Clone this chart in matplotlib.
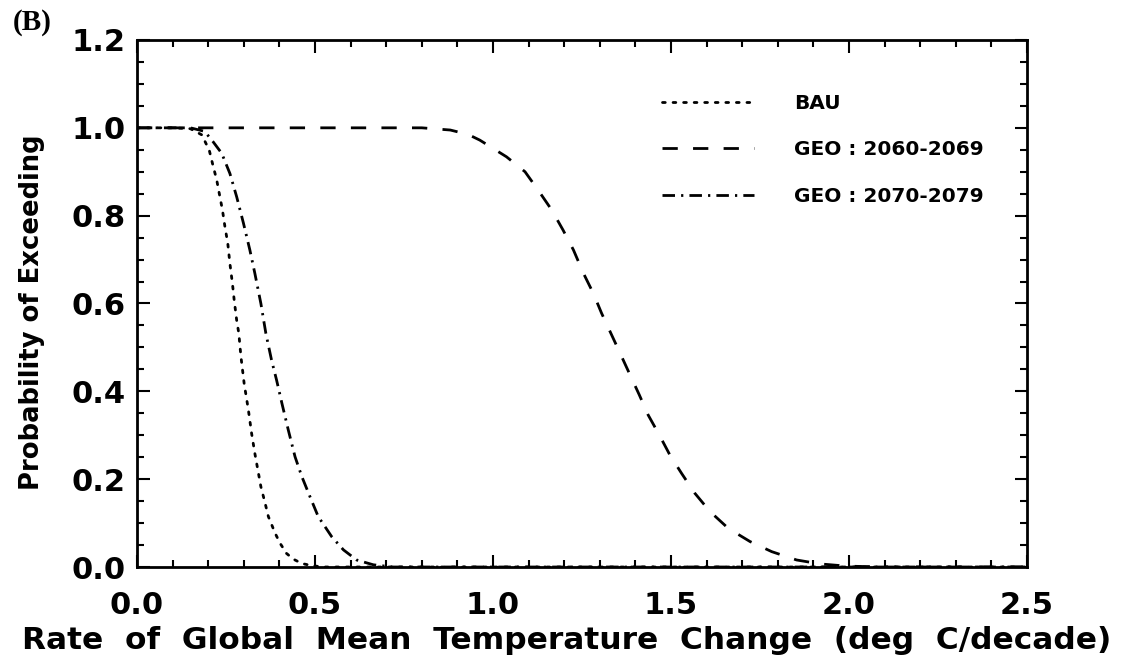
import matplotlib
matplotlib.use("Agg")
import matplotlib.pyplot as plt
from matplotlib.ticker import MultipleLocator, FormatStrFormatter

# valeurs (taux en deg C/decade, probabilite de depassement)
bau_x = [0.0, 0.10, 0.15, 0.182, 0.203, 0.212, 0.224, 0.231, 0.240, 0.247, 0.255,
         0.261, 0.268, 0.273, 0.280, 0.286, 0.292, 0.301, 0.313, 0.322, 0.331,
         0.348, 0.360, 0.369, 0.388, 0.402, 0.420, 0.439, 0.463, 0.486, 0.52, 2.5]
bau_y = [1.0, 1.0, 0.998, 0.984, 0.949, 0.919, 0.881, 0.851, 0.813, 0.775, 0.737,
         0.691, 0.646, 0.608, 0.562, 0.532, 0.479, 0.418, 0.357, 0.304, 0.259,
         0.183, 0.145, 0.115, 0.077, 0.054, 0.031, 0.018, 0.008, 0.004, 0.0, 0.0]

geo60_x = [0.0, 0.80, 0.88, 0.93, 0.963, 1.038, 1.090, 1.127, 1.165, 1.197, 1.226,
           1.254, 1.282, 1.305, 1.329, 1.357, 1.383, 1.411, 1.436, 1.467, 1.497,
           1.530, 1.567, 1.610, 1.661, 1.722, 1.783, 1.853, 1.919, 1.994, 2.1, 2.5]
geo60_y = [1.0, 1.0, 0.995, 0.985, 0.972, 0.934, 0.900, 0.858, 0.813, 0.767, 0.722,
           0.669, 0.623, 0.578, 0.536, 0.487, 0.441, 0.392, 0.346, 0.301, 0.255,
           0.213, 0.168, 0.126, 0.088, 0.058, 0.035, 0.016, 0.007, 0.002, 0.0, 0.0]

geo70_x = [0.0, 0.15, 0.19, 0.214, 0.238, 0.261, 0.280, 0.299, 0.317, 0.331, 0.348,
           0.362, 0.378, 0.392, 0.407, 0.425, 0.444, 0.463, 0.486, 0.509, 0.547,
           0.580, 0.617, 0.664, 0.72, 2.5]
geo70_y = [1.0, 1.0, 0.992, 0.968, 0.942, 0.896, 0.843, 0.783, 0.722, 0.669, 0.600,
           0.532, 0.471, 0.426, 0.373, 0.312, 0.251, 0.206, 0.160, 0.115, 0.069,
           0.039, 0.016, 0.005, 0.0, 0.0]

labels = ['BAU', 'GEO : 2060-2069', 'GEO : 2070-2079']

fig = plt.figure(figsize=(11.35, 6.61), dpi=100)
ax = fig.add_axes([0.1207, 0.1422, 0.7841, 0.7973])

ax.plot(bau_x, bau_y, color='black', lw=2, linestyle=(0, (1, 2.8)),
        dash_capstyle='round', label=labels[0])
ax.plot(geo60_x, geo60_y, color='black', lw=2, linestyle=(0, (5.5, 5.5)), label=labels[1])
ax.plot(geo70_x, geo70_y, color='black', lw=2, linestyle=(0, (4.5, 2.2, 0.8, 2.2)),
        label=labels[2])

ax.set_xlim(0, 2.5)
ax.set_ylim(0, 1.2)
ax.xaxis.set_major_locator(MultipleLocator(0.5))
ax.xaxis.set_minor_locator(MultipleLocator(0.1))
ax.yaxis.set_major_locator(MultipleLocator(0.2))
ax.yaxis.set_minor_locator(MultipleLocator(0.05))
ax.xaxis.set_major_formatter(FormatStrFormatter('%.1f'))
ax.yaxis.set_major_formatter(FormatStrFormatter('%.1f'))
ax.tick_params(which='both', direction='in', top=True, right=True, width=1.5)
ax.tick_params(which='major', length=9, labelsize=22)
ax.tick_params(axis='x', which='major', pad=17)
ax.tick_params(axis='y', which='major', pad=8)
ax.tick_params(which='minor', length=5)
for lab in ax.get_xticklabels() + ax.get_yticklabels():
    lab.set_fontweight('bold')
for s in ax.spines.values():
    s.set_linewidth(2)

ax.set_xlabel('Rate  of  Global  Mean  Temperature  Change  (deg  C/decade)',
              fontsize=22.5, fontweight='bold')
ax.xaxis.set_label_coords(0.483, -0.112)
ax.set_ylabel('Probability of Exceeding', fontsize=18.6, fontweight='bold')
ax.yaxis.set_label_coords(-0.103, 0.484)

leg = ax.legend(loc='upper left', bbox_to_anchor=(0.569, 0.932), frameon=False,
                handlelength=4.6, handletextpad=2.0, labelspacing=1.36,
                prop={'family': 'DejaVu Sans', 'weight': 'bold', 'size': 14.5})

fig.text(0.011, 0.955, '(B)', fontsize=21, fontweight='bold', family='Liberation Serif')

fig.savefig('out.png', dpi=100)
